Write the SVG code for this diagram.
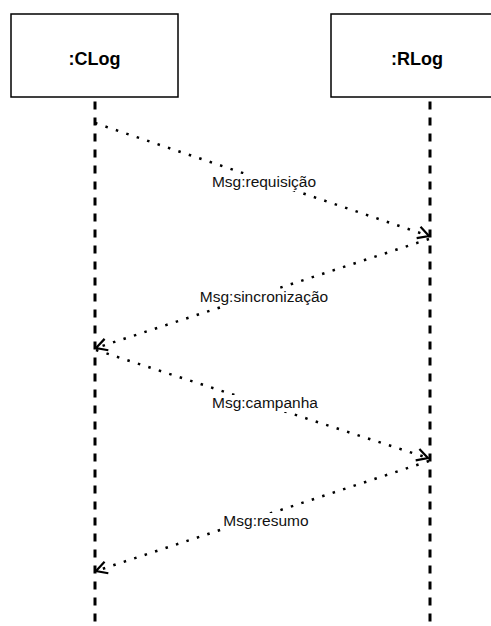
<svg xmlns="http://www.w3.org/2000/svg" width="491" height="626" viewBox="0 0 491 626">
<style>
.box{fill:#fff;stroke:#000;stroke-width:1.5}
.nlabel{font-family:"Liberation Sans",Arial,sans-serif;font-weight:bold;font-size:18px;text-anchor:middle;fill:#000}
.life{stroke:#000;stroke-width:3;stroke-dasharray:8 8;fill:none}
.msg{stroke:#000;stroke-width:2.5;stroke-dasharray:2.5 8.5;fill:none;marker-end:url(#arr)}
.mlabel{font-family:"Liberation Sans",Arial,sans-serif;font-size:15.5px;text-anchor:middle;fill:#111}
.lbg{fill:#fff}
</style>
<defs>
<marker id="arr" markerUnits="userSpaceOnUse" markerWidth="30" markerHeight="30" refX="0" refY="0" orient="auto" overflow="visible">
<path d="M-11,-6 L0,0 L-11,6" fill="none" stroke="#000" stroke-width="2.2" stroke-dasharray="none"/>
</marker>
</defs>
<g id="CLog">
<rect class="box" x="11" y="14" width="167" height="83"/>
<text class="nlabel" x="94.5" y="65">:CLog</text>
<line class="life" x1="95" y1="101.5" x2="95" y2="626"/>
</g>
<g id="RLog">
<rect class="box" x="331" y="14" width="172" height="83"/>
<text class="nlabel" x="417" y="65">:RLog</text>
<line class="life" x1="430" y1="101.5" x2="430" y2="626"/>
</g>
<g id="connectors">
<g id="m1">
<line class="msg" x1="95" y1="123" x2="429" y2="236"/>
<rect class="lbg" x="211" y="174" width="107" height="17"/>
<text class="mlabel" x="264" y="187">Msg:requisição</text>
</g>
<g id="m2">
<line class="msg" x1="429" y1="239" x2="96" y2="348"/>
<rect class="lbg" x="200" y="289" width="129" height="17"/>
<text class="mlabel" x="264" y="302">Msg:sincronização</text>
</g>
<g id="m3">
<line class="msg" x1="96" y1="350" x2="428" y2="458"/>
<rect class="lbg" x="211" y="395" width="109" height="17"/>
<text class="mlabel" x="265" y="408">Msg:campanha</text>
</g>
<g id="m4">
<line class="msg" x1="429" y1="461" x2="96" y2="571"/>
<rect class="lbg" x="220" y="513" width="93" height="17"/>
<text class="mlabel" x="266" y="526">Msg:resumo</text>
</g>
</g>
</svg>
